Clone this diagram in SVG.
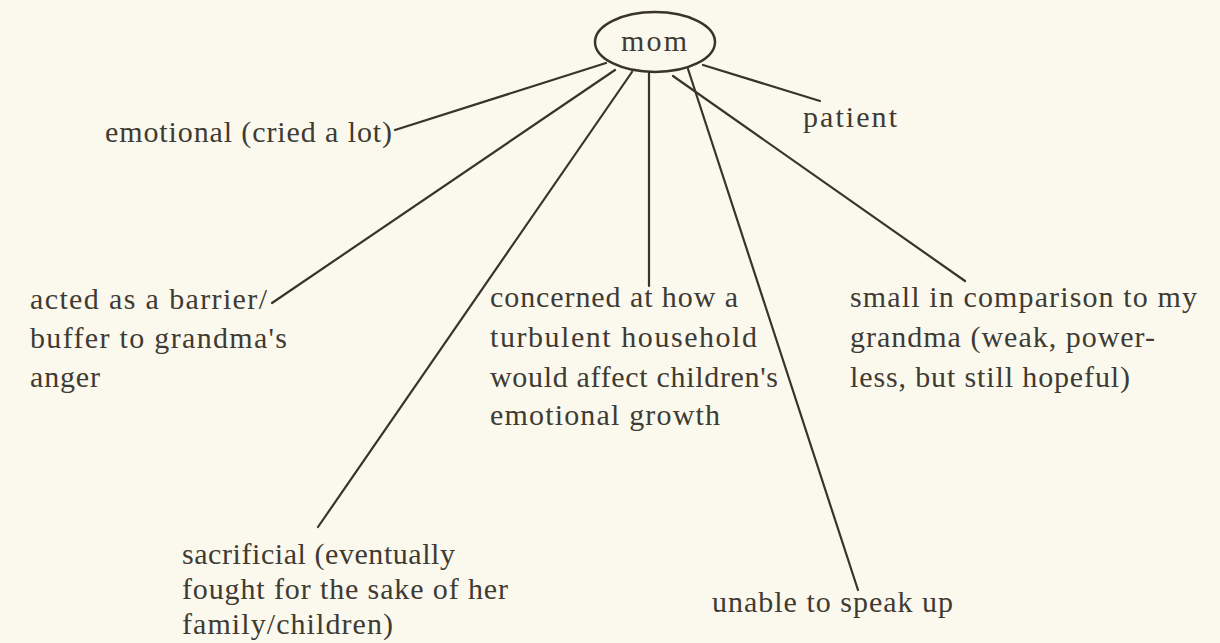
<svg xmlns="http://www.w3.org/2000/svg" width="1220" height="643" viewBox="0 0 1220 643">
<style>
text{font-family:"Liberation Serif","Times New Roman",serif;font-size:30px;fill:#3f3b34}
.c line{stroke:#38342d;stroke-width:2.2;stroke-linecap:round}
.node ellipse{fill:none;stroke:#38342d;stroke-width:2.5}
</style>
<rect width="1220" height="643" fill="#fbf9ed"/>
<g class="c" id="connectors">
<line x1="606" y1="63" x2="395" y2="130"/>
<line x1="703" y1="65" x2="820" y2="101"/>
<line x1="615" y1="70" x2="272" y2="303"/>
<line x1="632" y1="72" x2="318" y2="527"/>
<line x1="649" y1="72" x2="649" y2="286"/>
<line x1="688" y1="69" x2="858" y2="590"/>
<line x1="673" y1="76" x2="965" y2="281"/>
</g>
<g class="node" id="mom">
<ellipse cx="655" cy="42" rx="60" ry="30"/>
<text x="621" y="51" textLength="66" lengthAdjust="spacing">mom</text>
</g>
<g class="node" id="emotional">
<text x="105" y="142" textLength="287" lengthAdjust="spacing">emotional (cried a lot)</text>
</g>
<g class="node" id="patient">
<text x="803" y="127" textLength="94" lengthAdjust="spacing">patient</text>
</g>
<g class="node" id="barrier">
<text x="30" y="309" textLength="237" lengthAdjust="spacing">acted as a barrier/</text>
<text x="30" y="348" textLength="257" lengthAdjust="spacing">buffer to grandma's</text>
<text x="30" y="387" textLength="70" lengthAdjust="spacing">anger</text>
</g>
<g class="node" id="concerned">
<text x="490" y="307" textLength="248" lengthAdjust="spacing">concerned at how a</text>
<text x="490" y="347" textLength="267" lengthAdjust="spacing">turbulent household</text>
<text x="490" y="387" textLength="288" lengthAdjust="spacing">would affect children's</text>
<text x="490" y="425" textLength="230" lengthAdjust="spacing">emotional growth</text>
</g>
<g class="node" id="small">
<text x="850" y="307" textLength="347" lengthAdjust="spacing">small in comparison to my</text>
<text x="850" y="347" textLength="305" lengthAdjust="spacing">grandma (weak, power-</text>
<text x="850" y="387" textLength="280" lengthAdjust="spacing">less, but still hopeful)</text>
</g>
<g class="node" id="sacrificial">
<text x="182" y="564" textLength="273" lengthAdjust="spacing">sacrificial (eventually</text>
<text x="182" y="599" textLength="326" lengthAdjust="spacing">fought for the sake of her</text>
<text x="182" y="634" textLength="211" lengthAdjust="spacing">family/children)</text>
</g>
<g class="node" id="unable">
<text x="712" y="612" textLength="241" lengthAdjust="spacing">unable to speak up</text>
</g>
</svg>
